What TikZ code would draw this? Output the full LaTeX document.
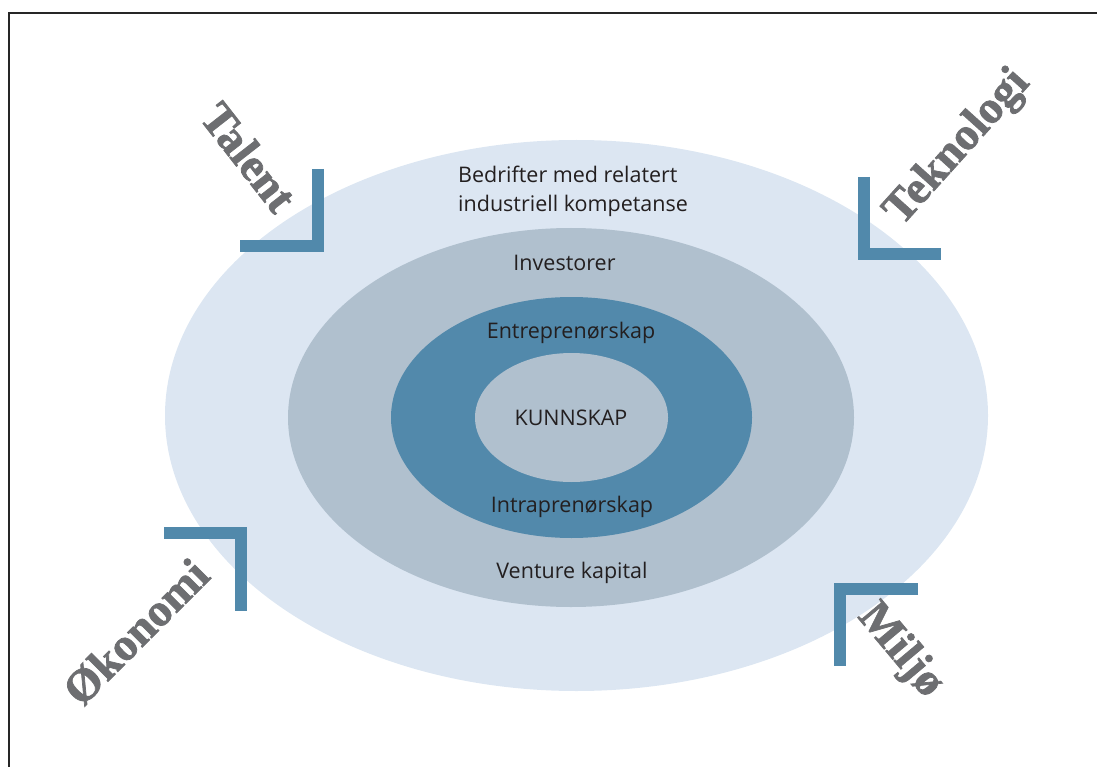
\documentclass[tikz,border=0pt]{standalone}
\usepackage{fontspec}
\setmainfont{Open Sans}
\newfontfamily\labelfont[BoldFeatures={FakeBold=1.6}]{Liberation Serif}
\definecolor{outerc}{HTML}{DCE6F2}
\definecolor{midc}{HTML}{B0C0CE}
\definecolor{darkc}{HTML}{5289AB}
\definecolor{brc}{HTML}{5189AB}
\definecolor{labc}{HTML}{6D6E71}
\definecolor{txtc}{HTML}{231F20}
\tikzset{
  ring/.style={draw=none},
  ringtext/.style={text=txtc, font=\fontsize{21.5}{29}\selectfont, inner sep=0pt},
  bracket/.style={draw=brc, line width=12pt, line cap=butt, line join=miter},
  factor/.style={text=labc, font=\labelfont\bfseries\fontsize{46}{46}\selectfont, inner sep=0pt}
}
\begin{document}
\begin{tikzpicture}[x=1pt,y=-1pt]
\useasboundingbox (0,0) rectangle (1097,767);
\draw[line width=2pt, black!85] (9,780) -- (9,13) -- (1110,13);
\fill[outerc] (576.5,415.5) ellipse [x radius=411.5, y radius=275.5];
\fill[midc] (571,417.5) ellipse [x radius=283, y radius=189.5];
\fill[darkc] (571.5,417.5) ellipse [x radius=180.5, y radius=120.5];
\fill[midc] (571.5,417.5) ellipse [x radius=96.5, y radius=64.5];
\node[ringtext, align=left, anchor=base west] (bed) at (458,212) {Bedrifter med relatert\\industriell kompetanse};
\node[ringtext, anchor=base] (inv) at (564.5,271) {Investorer};
\node[ringtext, anchor=base] (ent) at (571,338) {Entreprenørskap};
\node[ringtext, anchor=base] (kun) at (571,425) {KUNNSKAP};
\node[ringtext, anchor=base] (intra) at (572,512) {Intraprenørskap};
\node[ringtext, anchor=base] (ven) at (572,578) {Venture kapital};
\draw[bracket] (318,169) -- (318,246) -- (240,246);
\draw[bracket] (864,177) -- (864,254) -- (941,254);
\draw[bracket] (164,532.5) -- (241,532.5) -- (241,611);
\draw[bracket] (918,589) -- (840,589) -- (840,666);
\node[factor, rotate=-52] (tal) at (249,157) {Talent};
\node[factor, rotate=48] (tek) at (958,148) {Teknologi};
\node[factor, rotate=45] (oko) at (136,632) {Økonomi};
\node[factor, rotate=-50] (mil) at (900,651) {Miljø};
\end{tikzpicture}
\end{document}
